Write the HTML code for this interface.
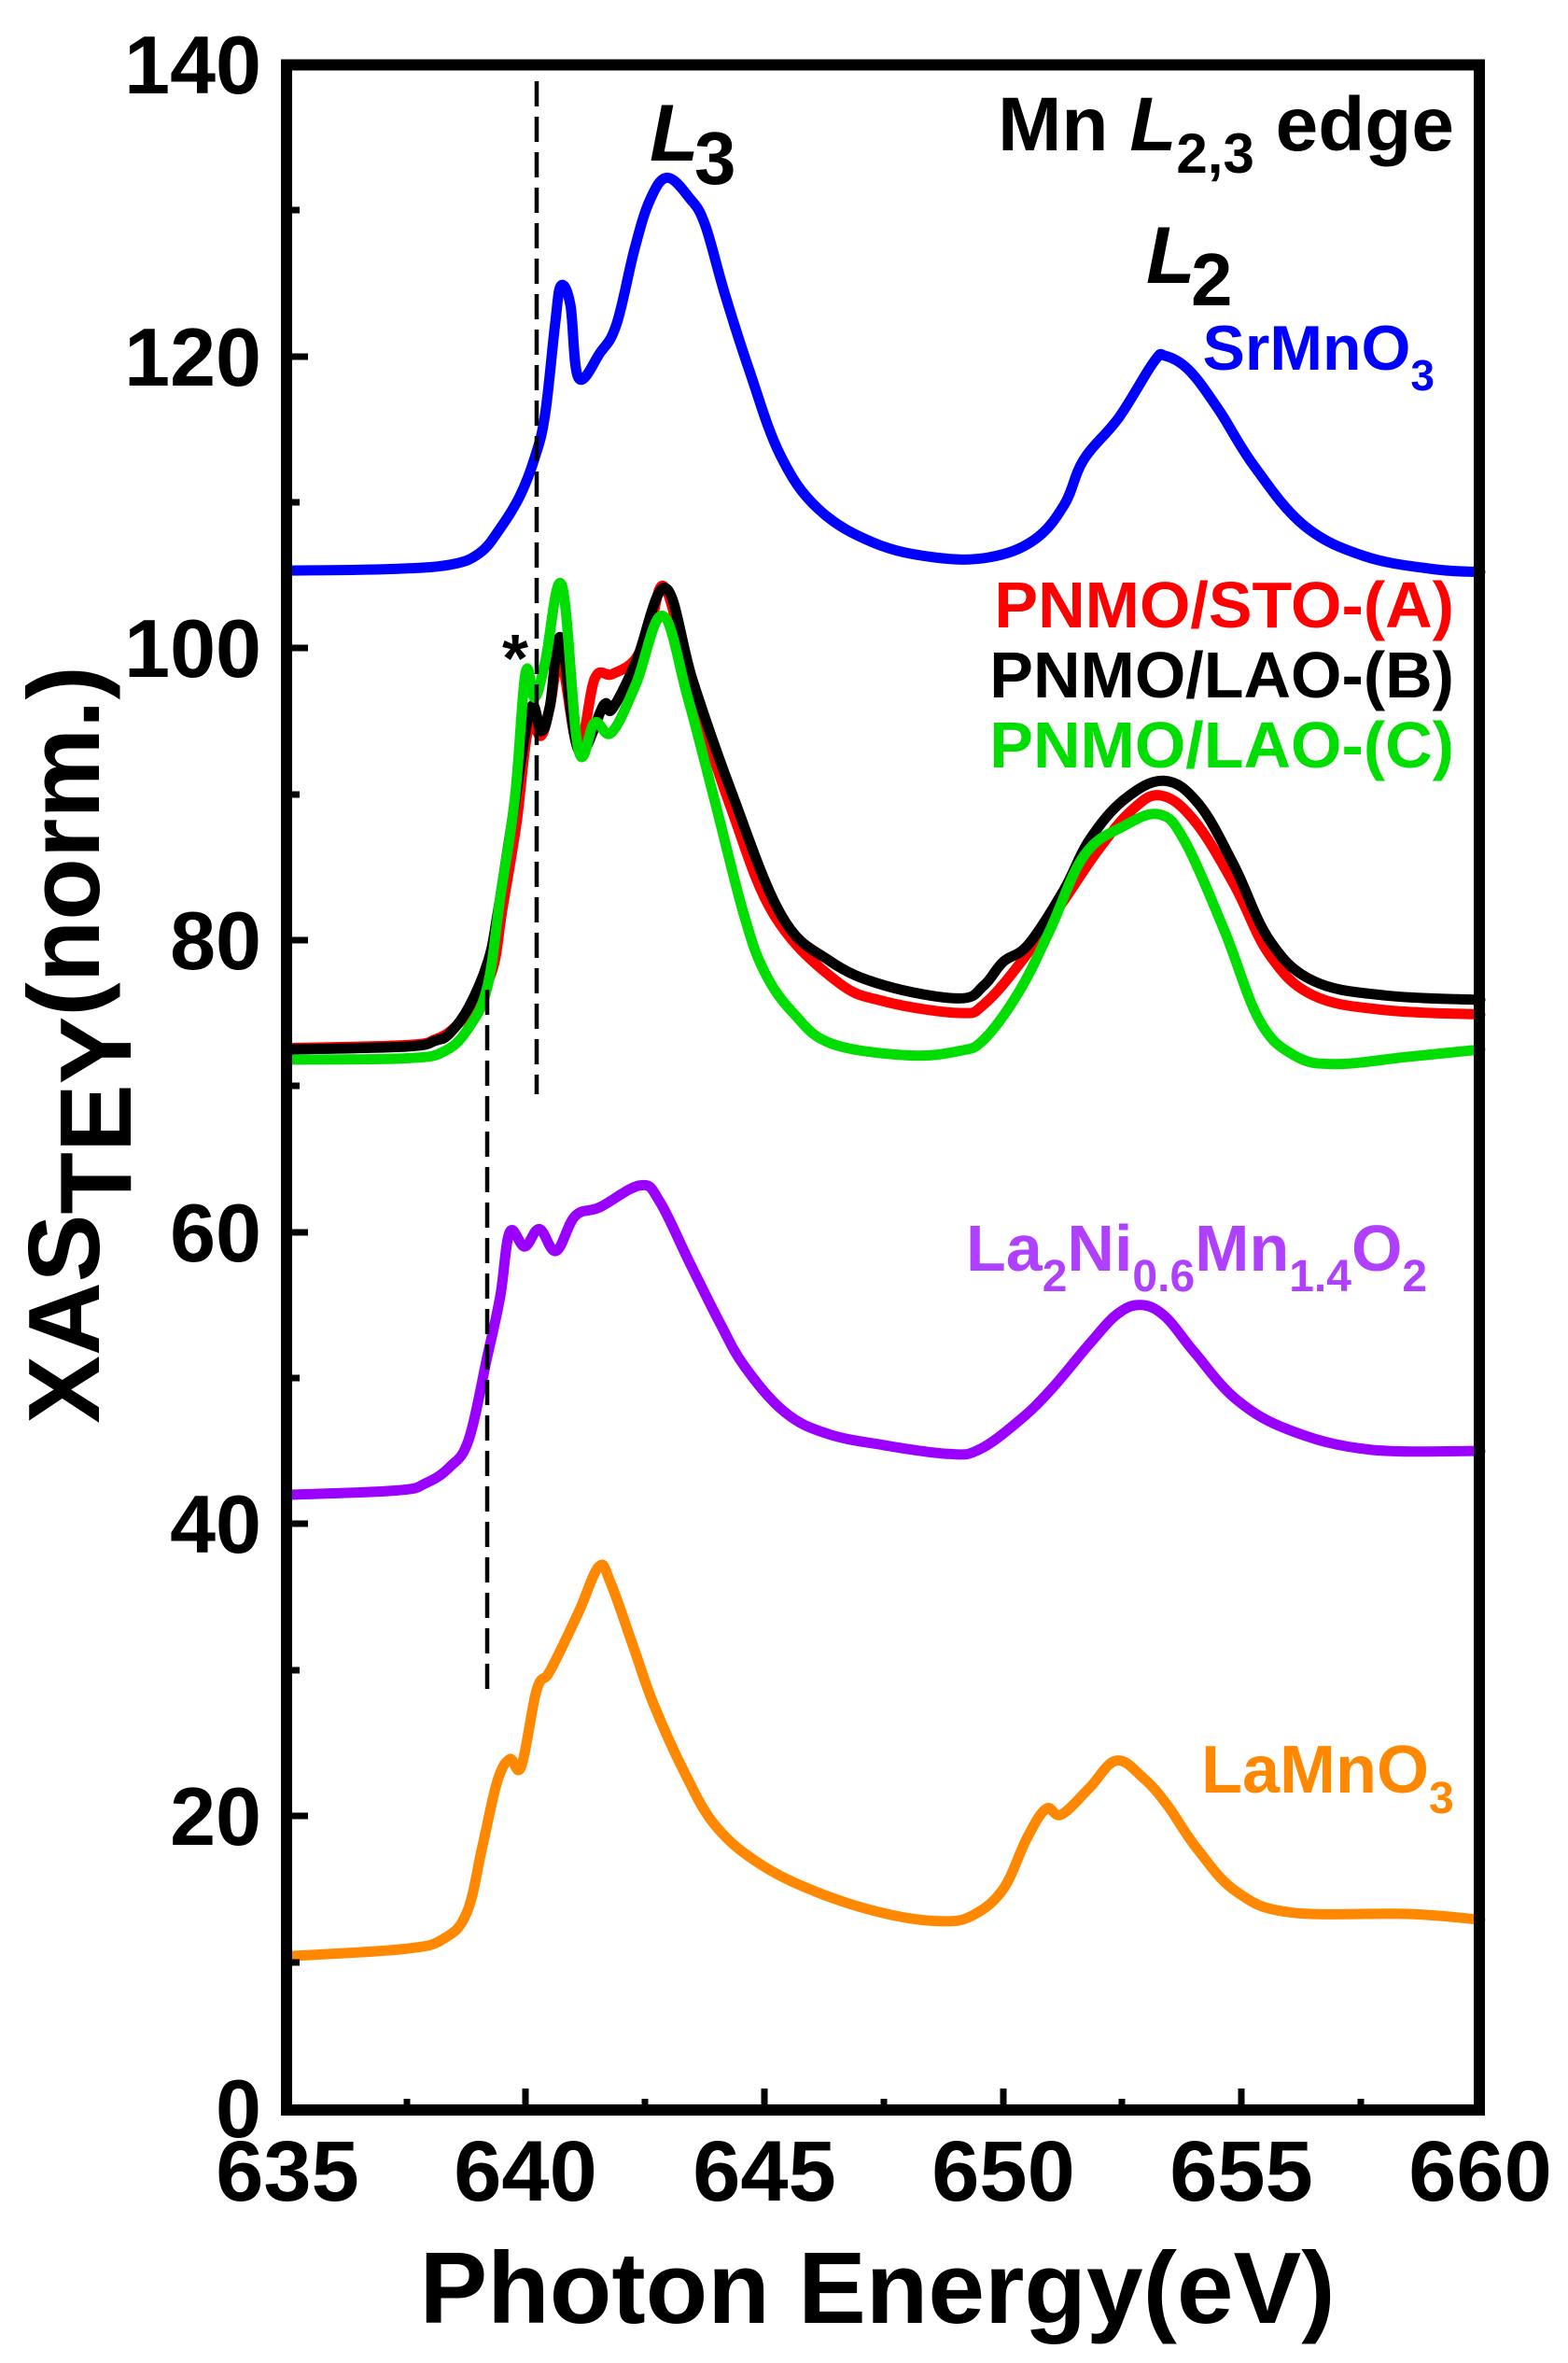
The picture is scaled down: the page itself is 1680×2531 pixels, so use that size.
<!DOCTYPE html>
<html><head><meta charset="utf-8"><style>html,body{margin:0;padding:0;background:#fff;}svg{display:block;}text{font-family:"Liberation Sans",Arial,sans-serif;font-weight:bold;}</style></head>
<body>
<svg id="s" width="1680" height="2531" viewBox="0 0 1680 2531" xmlns="http://www.w3.org/2000/svg">
<g id="curves" fill="none" stroke-linejoin="round" stroke-linecap="round" stroke-width="11"></g>
<line x1="575" y1="87" x2="575" y2="1172" stroke="#000" stroke-width="4.5" stroke-dasharray="27,11"/>
<line x1="522" y1="1060" x2="522" y2="1813" stroke="#000" stroke-width="4.5" stroke-dasharray="27,11"/>
<rect x="307" y="69.5" width="1278" height="2190.5" fill="none" stroke="#000" stroke-width="12"/>
<g stroke="#000" stroke-width="7">
<line x1="313" y1="2258" x2="330" y2="2258"/><line x1="313" y1="1945" x2="330" y2="1945"/><line x1="313" y1="1632" x2="330" y2="1632"/><line x1="313" y1="1320" x2="330" y2="1320"/><line x1="313" y1="1007" x2="330" y2="1007"/><line x1="313" y1="694" x2="330" y2="694"/><line x1="313" y1="382" x2="330" y2="382"/>
<line x1="313" y1="2102" x2="321" y2="2102"/><line x1="313" y1="1789" x2="321" y2="1789"/><line x1="313" y1="1476" x2="321" y2="1476"/><line x1="313" y1="1163" x2="321" y2="1163"/><line x1="313" y1="851" x2="321" y2="851"/><line x1="313" y1="538" x2="321" y2="538"/><line x1="313" y1="225" x2="321" y2="225"/>
<line x1="563" y1="2254" x2="563" y2="2237"/><line x1="819" y1="2254" x2="819" y2="2237"/><line x1="1075" y1="2254" x2="1075" y2="2237"/><line x1="1330" y1="2254" x2="1330" y2="2237"/>
<line x1="436" y1="2254" x2="436" y2="2248"/><line x1="691" y1="2254" x2="691" y2="2248"/><line x1="947" y1="2254" x2="947" y2="2248"/><line x1="1202" y1="2254" x2="1202" y2="2248"/><line x1="1458" y1="2254" x2="1458" y2="2248"/>
</g>
<g font-size="88" text-anchor="end">
<text x="280" y="2289">0</text><text x="280" y="1976">20</text><text x="280" y="1663">40</text><text x="280" y="1351">60</text><text x="280" y="1038">80</text><text x="280" y="725">100</text><text x="280" y="413">120</text><text x="280" y="100">140</text>
</g>
<g font-size="92" text-anchor="middle">
<text x="308" y="2357">635</text><text x="563" y="2357">640</text><text x="819" y="2357">645</text><text x="1075" y="2357">650</text><text x="1330" y="2357">655</text><text x="1586" y="2357">660</text>
</g>
<text x="940" y="2488" font-size="109" text-anchor="middle">Photon Energy(eV)</text>
<text transform="translate(106,1119) rotate(-90)" font-size="109" text-anchor="middle">XAS<tspan dy="34">TEY</tspan><tspan dy="-34">(norm.)</tspan></text>
<text x="696" y="172" font-size="86" font-style="italic">L</text><text x="744" y="197" font-size="80">3</text>
<text x="1558" y="161" font-size="82" text-anchor="end">Mn <tspan font-style="italic">L</tspan><tspan font-size="60" dy="24">2,3</tspan><tspan dy="-24"> edge</tspan></text>
<text x="1228" y="303" font-size="86" font-style="italic">L</text><text x="1276" y="327" font-size="80">2</text>
<text x="1537" y="396" font-size="68" fill="#0000ff" text-anchor="end">SrMnO<tspan font-size="46" dy="22">3</tspan></text>
<text x="1558" y="672" font-size="70" fill="#ff0000" text-anchor="end">PNMO/STO-(A)</text>
<text x="1558" y="747" font-size="70" fill="#000" text-anchor="end">PNMO/LAO-(B)</text>
<text x="1558" y="822" font-size="70" fill="#00dd00" text-anchor="end">PNMO/LAO-(C)</text>
<text x="1035" y="1361" font-size="70" fill="#b040ff">La<tspan font-size="48" dy="22">2</tspan><tspan dy="-22">Ni</tspan><tspan font-size="48" dy="22">0.6</tspan><tspan dy="-22">Mn</tspan><tspan font-size="48" dy="22">1.4</tspan><tspan dy="-22">O</tspan><tspan font-size="48" dy="22">2</tspan></text>
<text x="1287" y="1920" font-size="72" fill="#ff8800">LaMnO<tspan font-size="48" dy="22">3</tspan></text>
<text x="552" y="730" font-size="72" text-anchor="middle">*</text>
</svg>
<script>
var D=[
["#0000ff","635,105.3 637.15,105.4 638.4,105.7 639.03,106.5 639.46,108.2 639.87,110.4 640.18,113 640.4,116 640.61,122.2 640.73,124.8 640.93,123.5 641.1,118.5 641.55,120.2 641.9,122.2 642.28,127.4 642.6,130.7 642.96,132.2 643.43,130.8 643.75,129 644.17,124.2 644.69,118.9 645.33,113.2 646.13,109.5 647.29,107.2 648.56,106.2 649.7,106.2 650.65,107.4 651.28,109.8 651.69,112.9 652.43,115.8 653.16,119.6 653.4,120 653.9,119 654.52,116.3 655.25,112.5 656.3,108.4 657.56,106.3 659,105.4 660,105.2"],
["#ff0000","635,72.6 637.5,72.8 638.1,73.2 638.5,74 638.9,75.6 639.3,78 639.5,82 639.8,88 640.05,94.5 640.32,94 640.5,96 640.73,99.2 641.1,93.2 641.44,97.9 641.8,98.2 642.28,99.2 642.6,101.5 642.92,104.1 643.5,97 644.3,89 645.2,81.7 646.5,77.2 647.5,75.8 649.07,75 649.6,75.6 650.4,78.6 651.27,82.7 652,86.2 652.7,88.9 653.3,89.9 654,88.2 654.84,83.8 655.58,79 656.5,76.2 658,75.2 660,74.9"],
["#000000","635,72.5 637.5,72.7 638.1,73.1 638.4,73.6 638.8,75.4 639.2,78.5 639.4,81.7 639.7,88 640.09,95.8 640.32,94.3 640.5,96 640.73,100.7 641.1,93 641.63,96.1 641.8,95.8 642.3,99 642.92,104.1 643.5,97.7 644.3,90.2 645.35,81.7 646.35,78.6 647.5,76.9 649.07,76 649.6,76.9 650,78.5 650.53,79.7 651.27,83.4 651.8,86.8 652.53,89.6 653.37,90.9 654.1,89.3 654.84,85.1 655.58,80 656.5,77.2 658,76.2 660,75.9"],
["#00dd00","635,71.8 637.5,71.9 638.3,72.4 638.8,74 639.19,76.8 639.46,82.9 639.77,89.8 639.99,98.3 640.18,96.6 640.4,99 640.75,104.3 641.1,93 641.44,94.9 641.79,94.2 642.3,97.5 642.86,102.2 643.39,96.6 643.98,89.2 644.57,81.7 645,77.8 645.6,75 646.4,72.9 648,72.1 649.07,72.4 649.6,73.2 650.34,76.5 650.97,80.6 651.7,85.8 652.53,87.8 653.27,88.6 653.8,86.8 654.63,80.7 655.37,74.5 656.1,72.1 656.95,71.5 658.5,72 660,72.5"],
["#9900ff","635,42 637.3,42.3 637.9,42.8 638.4,43.9 638.8,45.8 639.19,51.5 639.46,55.6 639.66,60 639.97,59 640.28,60.2 640.63,58.7 641.03,61.1 641.55,61.7 642.4,63.2 642.8,62.1 643.43,57.9 644.06,53.8 644.58,50.8 645.41,47.7 646.3,46.2 647.5,45.4 648.87,44.8 649.5,45.1 650.34,47.1 651,49.2 651.8,52.3 652.4,54.4 652.9,55 653.4,54.2 654,51.8 654.9,48.5 656.03,46.4 657.67,45.1 660,45"],
["#ff8800","635,10.4 637.45,10.9 638.27,11.6 638.76,13.4 639.09,18 639.4,22.4 639.66,23.9 639.9,23.4 640.22,28.6 640.46,29.7 640.7,31.2 641.12,34.1 641.53,37.1 641.77,36 642.26,31.5 642.67,27.7 643.32,23 643.98,19.3 644.96,16.6 646.25,14.6 647.56,13.3 648.7,12.8 649.36,13.2 650,15 650.5,18.5 650.9,20.5 651.22,20.1 651.8,21.9 652.37,23.8 652.94,22.6 653.43,20.8 654.08,17.7 654.9,14.8 656.03,13.4 658.5,13.3 660,12.9"]];
var g=document.getElementById("curves"),NS="http://www.w3.org/2000/svg";
D.forEach(function(c){
 var p=c[1].split(" ").map(function(s){var a=s.split(",");return[308+(+a[0]-635)*51.12,2258-(+a[1])*15.64];});
 var d="M"+p[0][0].toFixed(1)+","+p[0][1].toFixed(1);
 for(var i=0;i<p.length-1;i++){
  var p0=p[i-1]||p[i],p1=p[i],p2=p[i+1],p3=p[i+2]||p2,t=0.18;
  var c1=[p1[0]+(p2[0]-p0[0])*t,p1[1]+(p2[1]-p0[1])*t],c2=[p2[0]-(p3[0]-p1[0])*t,p2[1]-(p3[1]-p1[1])*t];
  d+=" C"+c1[0].toFixed(1)+","+c1[1].toFixed(1)+" "+c2[0].toFixed(1)+","+c2[1].toFixed(1)+" "+p2[0].toFixed(1)+","+p2[1].toFixed(1);
 }
 var e=document.createElementNS(NS,"path");e.setAttribute("d",d);e.setAttribute("stroke",c[0]);g.appendChild(e);
});
</script>
</body></html>
